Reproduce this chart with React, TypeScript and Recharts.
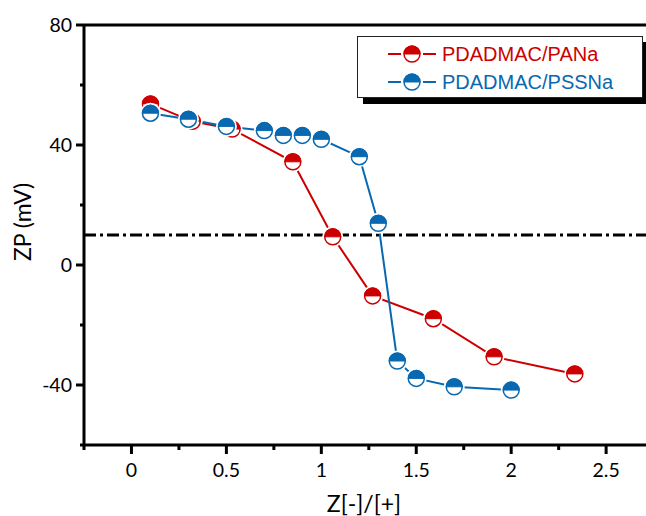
import { LineChart, Line, XAxis, YAxis, ReferenceLine, Legend } from "recharts"

// Z[-]/[+] ratio and zeta potential (mV)
const panaZ = [0.1, 0.32, 0.53, 0.85, 1.06, 1.27, 1.59, 1.91, 2.335]
const panaZP = [53.7, 47.9, 45.3, 34.4, 9.4, -10.3, -17.9, -30.6, -36.3]

const pssZ = [0.1, 0.3, 0.5, 0.7, 0.8, 0.9, 1.0, 1.2, 1.3, 1.4, 1.5, 1.7, 2.0]
const pssZP = [50.6, 48.6, 46.2, 44.8, 43.2, 43.2, 41.9, 36.1, 13.9, -32, -37.8, -40.6, -41.7]

const xTicks = [-0.25, 0, 0.25, 0.5, 0.75, 1, 1.25, 1.5, 1.75, 2, 2.25, 2.5]
const xLabels = [0, 0.5, 1, 1.5, 2, 2.5]
const yTicks = [-60, -40, -20, 0, 20, 40, 60, 80]
const yLabels = [-40, 0, 40, 80]

const RED = "#cc0000"
const BLUE = "#0868b0"
const FONT = "Lato"

const pana = panaZ.map((z, i) => ({ z, zp: panaZP[i] }))
const pss = pssZ.map((z, i) => ({ z, zp: pssZP[i] }))

function HalfDot({ cx, cy, color, halo }: { cx: number; cy: number; color: string; halo?: boolean }) {
  const r = 8
  return (
    <g>
      {halo && <circle cx={cx} cy={cy} r={r + 2.5} fill="#fff" />}
      <circle cx={cx} cy={cy} r={r} fill="#fff" stroke={color} strokeWidth={1.5} />
      <path d={`M${cx - r},${cy} A${r},${r} 0 0 1 ${cx + r},${cy} Z`} fill={color} stroke={color} strokeWidth={1} />
    </g>
  )
}

const dotFor = (color: string) => (props: any) => (
  <HalfDot key={`${color}-${props.index}`} cx={props.cx} cy={props.cy} color={color} halo />
)

function XTick(props: any) {
  const { x, y, payload } = props
  const major = xLabels.includes(payload.value)
  const axisY = y - 8
  return (
    <g>
      <line x1={x} x2={x} y1={axisY} y2={axisY + (major ? 9 : 5)} stroke="#000" strokeWidth={3} />
      {major && (
        <text x={x} y={axisY + 32} textAnchor="middle" fontFamily={FONT} fontSize={19.5} fill="#000">
          {payload.value}
        </text>
      )}
    </g>
  )
}

function YTick(props: any) {
  const { x, y, payload } = props
  const major = yLabels.includes(payload.value)
  const axisX = x + 8
  return (
    <g>
      <line x1={axisX} x2={axisX - (major ? 8 : 4)} y1={y} y2={y} stroke="#000" strokeWidth={3} />
      {major && (
        <text x={axisX - 12} y={y + 7} textAnchor="end" fontFamily={FONT} fontSize={19.5} fill="#000">
          {payload.value}
        </text>
      )}
    </g>
  )
}

function LegendRow({ color, label, top }: { color: string; label: string; top: number }) {
  return (
    <div style={{ position: "absolute", left: 30, top: top - 12, height: 24, display: "flex", alignItems: "center" }}>
      <svg width={48} height={24}>
        <line x1={0} x2={13} y1={12} y2={12} stroke={color} strokeWidth={2} />
        <line x1={35} x2={48} y1={12} y2={12} stroke={color} strokeWidth={2} />
        <HalfDot cx={24} cy={12} color={color} />
      </svg>
      <span style={{ marginLeft: 6, color, fontFamily: "Liberation Sans", fontSize: 20, lineHeight: "24px" }}>{label}</span>
    </div>
  )
}

function LegendBox() {
  return (
    <div
      style={{
        position: "relative",
        width: 284,
        height: 60,
        border: "1px solid #222",
        background: "#fff",
        boxShadow: "6px 6px 0 #000",
      }}
    >
      <LegendRow color={RED} label="PDADMAC/PANa" top={17} />
      <LegendRow color={BLUE} label="PDADMAC/PSSNa" top={45} />
    </div>
  )
}

export default function App() {
  return (
    <div style={{ position: "absolute", left: 0, top: 0 }}>
      <LineChart width={646} height={516} margin={{ top: 25, right: 0, bottom: 0, left: 0 }}>
        <XAxis
          type="number"
          dataKey="z"
          domain={[-0.25, 2.71]}
          allowDataOverflow
          ticks={xTicks}
          interval={0}
          tickSize={8}
          tickMargin={0}
          tickLine={false}
          tick={<XTick />}
          axisLine={{ stroke: "#000", strokeWidth: 3 }}
          height={71}
          label={() => (
            <text x={364} y={512} textAnchor="middle" fontFamily={FONT} fontSize={23} fill="#000">
              Z[-]/[+]
            </text>
          )}
        />
        <YAxis
          type="number"
          domain={[-60, 80]}
          allowDataOverflow
          ticks={yTicks}
          interval={0}
          tickSize={8}
          tickMargin={0}
          tickLine={false}
          tick={<YTick />}
          axisLine={{ stroke: "#000", strokeWidth: 3 }}
          width={84}
          label={() => (
            <text transform="translate(31,222) rotate(-90)" textAnchor="middle" fontFamily={FONT} fontSize={23} fill="#000">
              ZP (mV)
            </text>
          )}
        />
        <ReferenceLine y={80} stroke="#000" strokeWidth={3} />
        <ReferenceLine y={10} stroke="#000" strokeWidth={3} strokeDasharray="12 4 3 4" />
        <Line
          data={pana}
          dataKey="zp"
          stroke={RED}
          strokeWidth={2}
          dot={dotFor(RED)}
          isAnimationActive={false}
          name="PDADMAC/PANa"
        />
        <Line
          data={pss}
          dataKey="zp"
          stroke={BLUE}
          strokeWidth={2}
          dot={dotFor(BLUE)}
          isAnimationActive={false}
          name="PDADMAC/PSSNa"
        />
        <Legend
          layout="horizontal"
          verticalAlign="middle"
          content={() => <LegendBox />}
          wrapperStyle={{ left: 357, top: 36, width: 292, height: 68 }}
        />
      </LineChart>
    </div>
  )
}
